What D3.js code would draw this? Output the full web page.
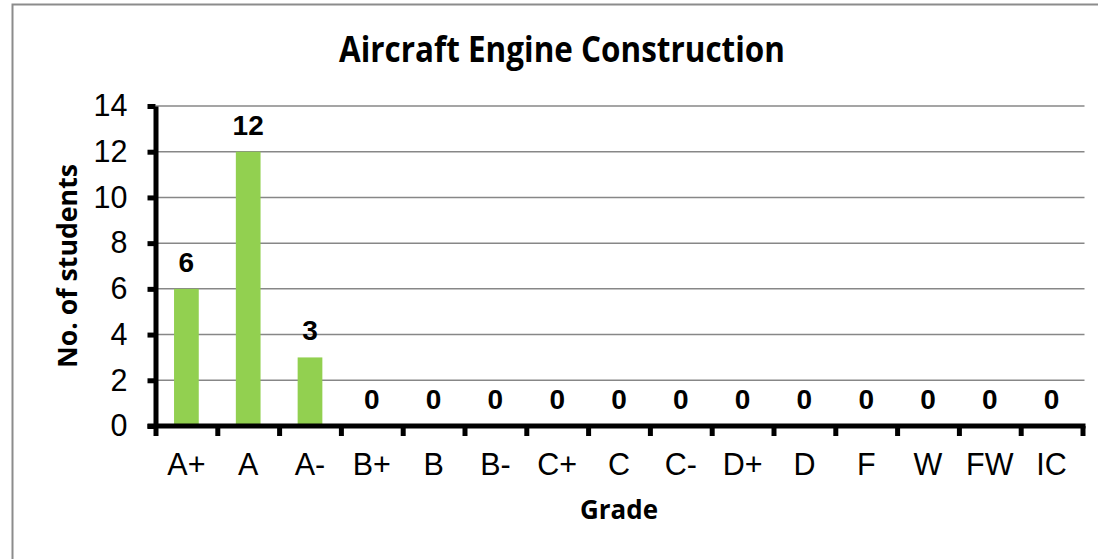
<!DOCTYPE html>
<html lang="en">
<head>
    <meta charset="UTF-8">
    <script src="https://d3js.org/d3.v7.min.js"></script>
    <style>
        body {
            margin: 0;
            background: #fff;
        }
        .tick-label {
            font-family: "Liberation Sans", Arial, sans-serif;
            font-size: 30.5px;
            fill: #000;
        }
        .value-label {
            font-family: "Liberation Sans", Arial, sans-serif;
            font-size: 28px;
            font-weight: bold;
            fill: #000;
        }
        .title-text {
            font-family: "Open Sans", sans-serif;
            font-weight: bold;
            fill: #000;
        }
    </style>
</head>
<body>
    <div id="chart"></div>

    <script>
        // data
        const grades = ["A+", "A", "A-", "B+", "B", "B-", "C+", "C", "C-", "D+", "D", "F", "W", "FW", "IC"];
        const students = [6, 12, 3, 0, 0, 0, 0, 0, 0, 0, 0, 0, 0, 0, 0];
        const yTicks = [0, 2, 4, 6, 8, 10, 12, 14];

        const W = 1098, H = 559;
        const plotLeft = 155.5, plotRight = 1082.5, plotTop = 106, plotBottom = 426;

        const svg = d3.select("#chart")
            .append("svg")
            .attr("width", W)
            .attr("height", H);

        // chart border
        svg.append("rect")
            .attr("x", 12.5)
            .attr("y", 4.5)
            .attr("width", 1200)
            .attr("height", 700)
            .attr("fill", "none")
            .attr("stroke", "#8c8c8c")
            .attr("stroke-width", 2);

        const x = d3.scaleBand()
            .domain(grades)
            .range([plotLeft, plotRight])
            .paddingInner(0.6)
            .paddingOuter(0.3);

        const xEdge = d3.scaleLinear()
            .domain([0, grades.length])
            .range([plotLeft, plotRight]);

        const y = d3.scaleLinear()
            .domain([0, 14])
            .range([plotBottom, plotTop]);

        // gridlines
        svg.append("g")
            .selectAll("line")
            .data(yTicks.filter(d => d > 0))
            .enter()
            .append("line")
            .attr("x1", plotLeft)
            .attr("x2", plotRight + 2)
            .attr("y1", d => y(d))
            .attr("y2", d => y(d))
            .attr("stroke", "#878787")
            .attr("stroke-width", 1.5);

        // bars
        svg.append("g")
            .selectAll("rect")
            .data(grades.map((g, i) => ({g, v: students[i]})))
            .enter()
            .append("rect")
            .attr("x", d => x(d.g))
            .attr("y", d => y(d.v))
            .attr("width", x.bandwidth())
            .attr("height", d => y(0) - y(d.v))
            .attr("fill", "#92d050");

        // y axis
        const yAxis = svg.append("g")
            .attr("transform", `translate(${plotLeft},0)`)
            .call(d3.axisLeft(y).tickValues(yTicks).tickSize(8).tickSizeOuter(0).tickPadding(20));
        yAxis.attr("font-size", null).attr("font-family", null);
        yAxis.select(".domain").attr("stroke", "#000").attr("stroke-width", 5);
        yAxis.selectAll(".tick line").attr("stroke", "#000").attr("stroke-width", 5);
        yAxis.selectAll(".tick text").attr("class", "tick-label");

        // x axis: tick marks between categories
        const xTickAxis = svg.append("g")
            .attr("transform", `translate(0,${plotBottom})`)
            .call(d3.axisBottom(xEdge).ticks(grades.length).tickSize(10).tickSizeOuter(0).tickFormat(""));
        xTickAxis.select(".domain")
            .attr("d", `M${plotLeft - 8},0H${plotRight + 3}`)
            .attr("stroke", "#000").attr("stroke-width", 5);
        xTickAxis.selectAll(".tick line").attr("stroke", "#000").attr("stroke-width", 5);

        // x axis labels
        const xAxis = svg.append("g")
            .attr("transform", `translate(0,${plotBottom})`)
            .call(d3.axisBottom(x).tickSize(0).tickPadding(27));
        xAxis.select(".domain").remove();
        xAxis.attr("font-size", null).attr("font-family", null);
        xAxis.selectAll(".tick text").attr("class", "tick-label");

        // value labels
        svg.append("g")
            .selectAll("text")
            .data(grades.map((g, i) => ({g, v: students[i]})))
            .enter()
            .append("text")
            .attr("class", "value-label")
            .attr("x", d => x(d.g) + x.bandwidth() / 2)
            .attr("y", d => y(d.v) - 17)
            .attr("text-anchor", "middle")
            .text(d => d.v);

        // titles
        svg.append("text")
            .attr("class", "title-text")
            .attr("x", 562)
            .attr("y", 62)
            .attr("text-anchor", "middle")
            .attr("font-size", 36)
            .attr("textLength", 446)
            .attr("lengthAdjust", "spacingAndGlyphs")
            .text("Aircraft Engine Construction");

        svg.append("text")
            .attr("class", "title-text")
            .attr("x", (plotLeft + plotRight) / 2)
            .attr("y", 519)
            .attr("text-anchor", "middle")
            .attr("font-size", 27)
            .attr("textLength", 78)
            .attr("lengthAdjust", "spacingAndGlyphs")
            .text("Grade");

        svg.append("text")
            .attr("class", "title-text")
            .attr("transform", `translate(77,${(plotTop + plotBottom) / 2}) rotate(-90)`)
            .attr("text-anchor", "middle")
            .attr("font-size", 26)
            .attr("textLength", 204)
            .attr("lengthAdjust", "spacingAndGlyphs")
            .text("No. of students");
    </script>
</body>
</html>
